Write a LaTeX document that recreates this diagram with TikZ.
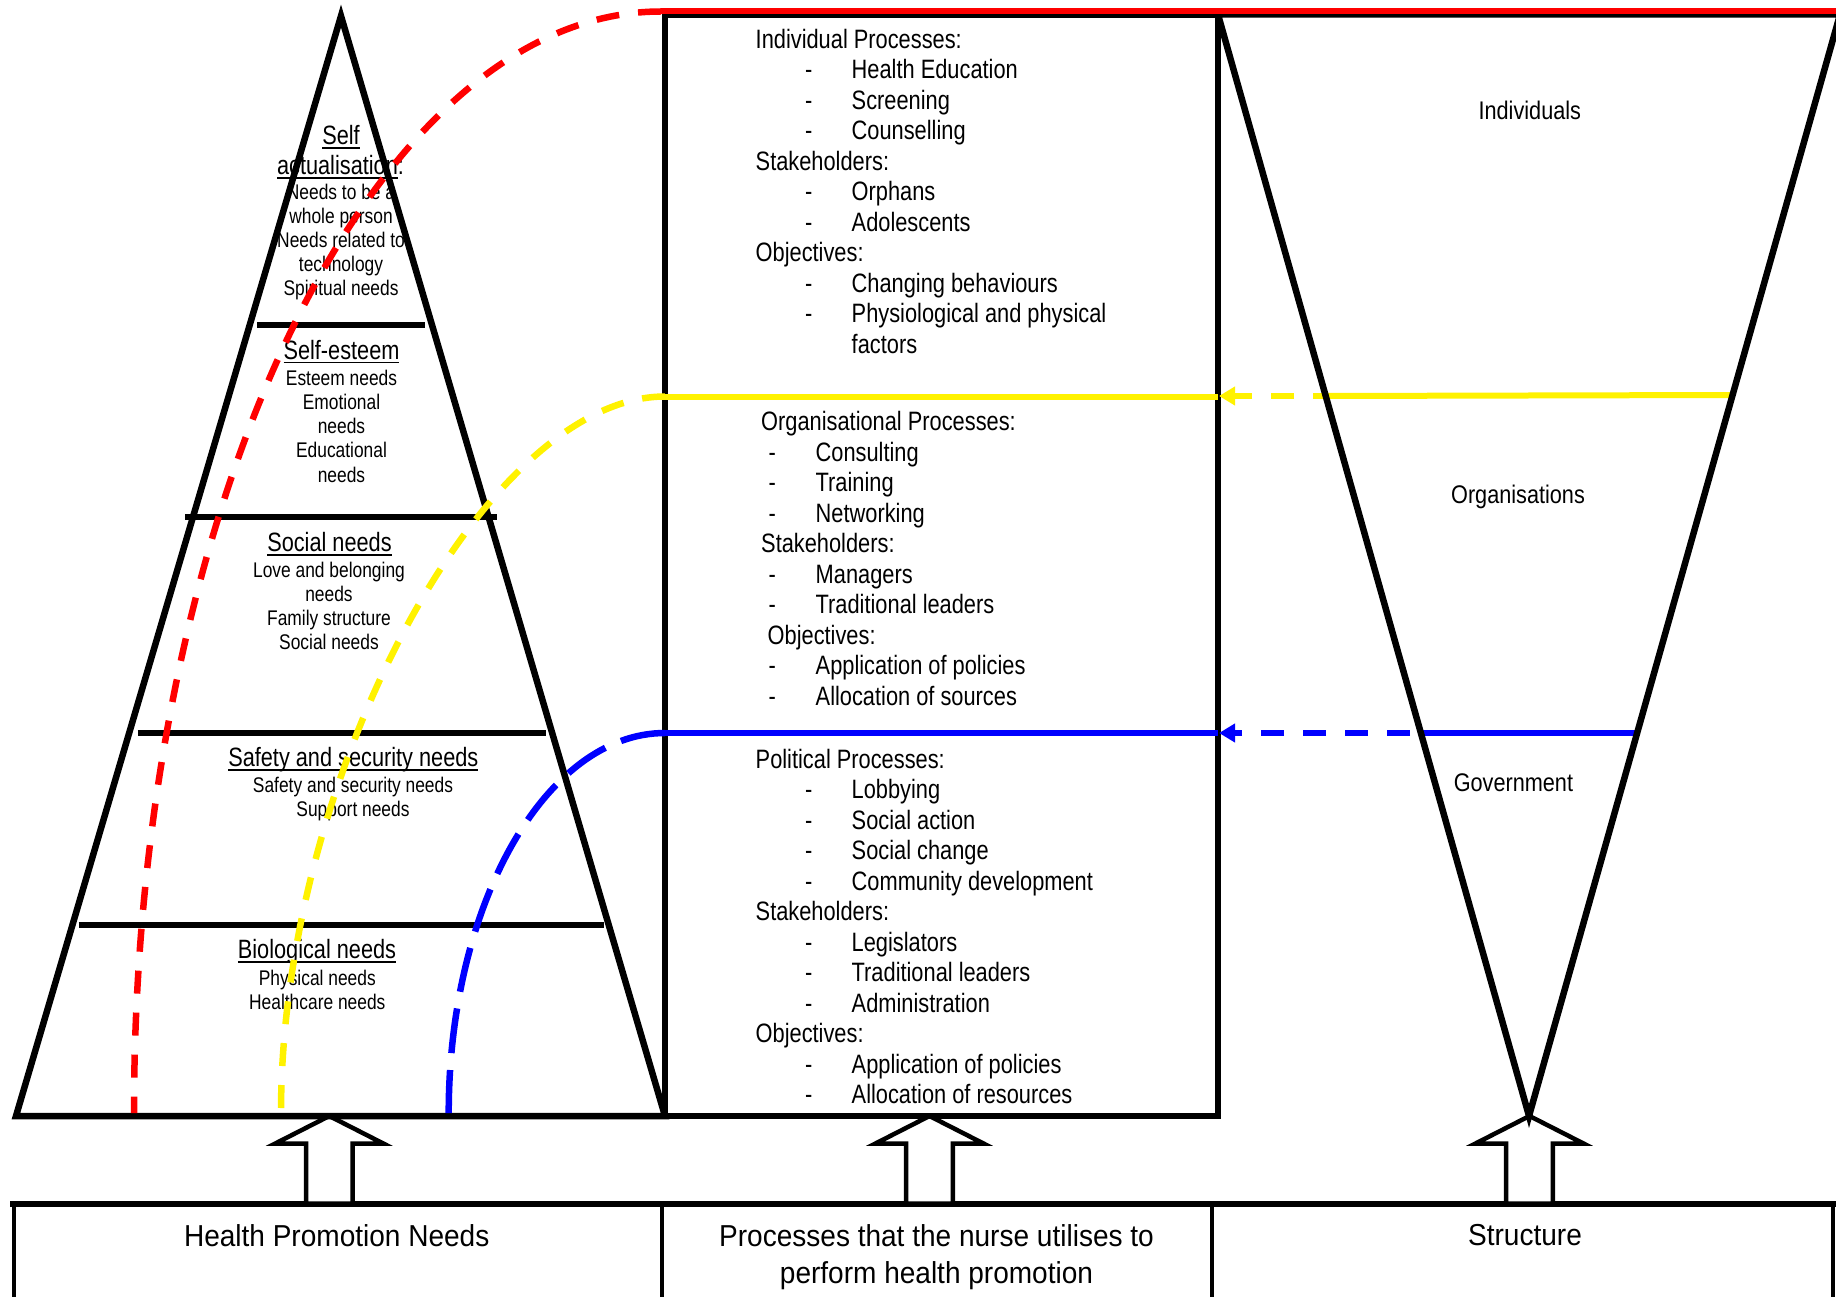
\documentclass[tikz,border=0pt]{standalone}
\usepackage{fontspec}
\setmainfont{Liberation Sans}
\newfontfamily\narrowf{Liberation Sans}[FakeStretch=0.82]
\newfontfamily\rightf{Liberation Sans}[FakeStretch=0.85]
\newfontfamily\widef{Liberation Sans}[FakeStretch=0.925]
\usetikzlibrary{arrows.meta}
\newcommand{\ulx}[1]{\setbox0\hbox{#1}\rlap{\vrule height -2.6pt depth 4.4pt width \wd0}\box0}
\tikzset{
  blk/.style={draw=black, line width=6.5pt, line join=miter},
  barrow/.style={draw=black, fill=white, line width=4.5pt, line join=miter},
  bbox/.style={draw=black, line width=4pt},
  mtxt/.style={inner sep=0pt, font=\narrowf\fontsize{26.6pt}{30pt}\selectfont, anchor=base west},
  ptit/.style={inner sep=0pt, font=\narrowf\fontsize{26.5pt}{30pt}\selectfont, anchor=base},
  pitem/.style={inner sep=0pt, font=\narrowf\fontsize{21.2pt}{24pt}\selectfont, anchor=base},
  rlab/.style={inner sep=0pt, font=\rightf\fontsize{25.5pt}{30pt}\selectfont, anchor=base},
  btxt/.style={inner sep=0pt, font=\widef\fontsize{30.3pt}{35pt}\selectfont, anchor=base},
  redsolid/.style={draw=red, line width=6pt},
  yelsolid/.style={draw=yellow, line width=6pt},
  blusolid/.style={draw=blue, line width=6pt},
  reddash/.style={draw=red, line width=6.5pt, dash pattern=on 23pt off 19pt},
  yeldash/.style={draw=yellow, line width=6.5pt, dash pattern=on 23pt off 19pt},
  bludash/.style={draw=blue, line width=6.5pt, dash pattern=on 45pt off 17pt},
  yelarrow/.style={draw=yellow, line width=6pt, dash pattern=on 23pt off 19pt, -{Triangle[length=16pt,width=18pt]}},
  bluarrow/.style={draw=blue, line width=6pt, dash pattern=on 23pt off 19pt, -{Triangle[length=16pt,width=18pt]}}
}
\newcommand{\blockarrow}[2]{%
  \coordinate (#1) at (#2,1116);
  \draw[barrow] (#1) -- ++(54,27.5) -- ++(-30.7,0) -- ++(0,60) -- ++(-46.6,0) -- ++(0,-60) -- ++(-30.7,0) -- cycle;}
\begin{document}
\begin{tikzpicture}[x=1pt, y=-1pt]
\useasboundingbox (0,0) rectangle (1836,1297);
\clip (0,0) rectangle (1836,1297);
\fill[white] (0,0) rectangle (1836,1297);

% ---------- bottom boxes and block arrows ----------
\coordinate (bt0) at (10,1203.5);
\coordinate (bt1) at (1840,1203.5);
\draw[bbox] (14,1203.5) -- (14,1330);
\draw[bbox] (661.5,1203.5) -- (661.5,1330);
\draw[bbox] (1212,1203.5) -- (1212,1330);
\draw[bbox] (1833,1203.5) -- (1833,1330);
\draw[draw=black, line width=6pt] (bt0) -- (bt1);
\blockarrow{ar1}{329.3}
\blockarrow{ar2}{929.5}
\blockarrow{ar3}{1529.5}

\node[btxt] (bx1) at (336.7,1246) {Health Promotion Needs};
\node[btxt] (bx2) at (936.5,1246.7) {Processes that the nurse utilises to};
\node[btxt] (bx2b) at (936.5,1283) {perform health promotion};
\node[btxt] (bx3) at (1525,1245.7) {Structure};

% ---------- pyramid ----------
\coordinate (pa) at (341,16);
\coordinate (pl) at (16,1116);
\coordinate (pr) at (665,1116);
\draw[blk] (pa) -- (pl) -- (pr) -- cycle;
\coordinate (l1a) at (257,325);   \coordinate (l1b) at (425,325);
\coordinate (l2a) at (185,517);   \coordinate (l2b) at (497,517);
\coordinate (l3a) at (137.5,733); \coordinate (l3b) at (545.5,733);
\coordinate (l4a) at (78.5,925);  \coordinate (l4b) at (604,925);
\draw[blk] (l1a) -- (l1b);
\draw[blk] (l2a) -- (l2b);
\draw[blk] (l3a) -- (l3b);
\draw[blk] (l4a) -- (l4b);

% pyramid texts
\node[ptit] (sa1) at (341,144.3) {\ulx{Self}};
\node[ptit] (sa2) at (340.5,174.3) {\ulx{actualisation}:};
\node[pitem] (sa3) at (341,199.3) {Needs to be a};
\node[pitem] (sa4) at (341,223.4) {whole person};
\node[pitem] (sa5) at (341,247.5) {Needs related to};
\node[pitem] (sa6) at (341,271.6) {technology};
\node[pitem] (sa7) at (341,295.7) {Spiritual needs};

\node[ptit] (se1) at (341.5,359) {\ulx{Self-esteem}};
\node[pitem] (se2) at (341.5,385) {Esteem needs};
\node[pitem] (se3) at (341.5,409.3) {Emotional};
\node[pitem] (se4) at (341.5,433.6) {needs};
\node[pitem] (se5) at (341.5,457.9) {Educational};
\node[pitem] (se6) at (341.5,482.2) {needs};

\node[ptit] (so1) at (329.5,551.8) {\ulx{Social needs}};
\node[pitem] (so2) at (329,577.1) {Love and belonging};
\node[pitem] (so3) at (329,601.3) {needs};
\node[pitem] (so4) at (329,625.6) {Family structure};
\node[pitem] (so5) at (329,649.9) {Social needs};

\node[ptit] (sf1) at (353.3,766.7) {\ulx{Safety and security needs}};
\node[pitem] (sf2) at (353,792.7) {Safety and security needs};
\node[pitem] (sf3) at (353,816.9) {Support needs};

\node[ptit] (bi1) at (317,958.3) {\ulx{Biological needs}};
\node[pitem] (bi2) at (317.3,985) {Physical needs};
\node[pitem] (bi3) at (317.3,1009) {Healthcare needs};

% ---------- middle box ----------
\coordinate (bxtl) at (665,14.5);
\coordinate (bxbr) at (1218,1116);
\draw[blk] (bxtl) rectangle (bxbr);

\node[mtxt] (h1) at (755.5,48.3) {Individual Processes:};
\node[mtxt] (i1d) at (805,78.8) {-};  \node[mtxt] (i1) at (851.5,78.8) {Health Education};
\node[mtxt] (i2d) at (805,109.3) {-}; \node[mtxt] (i2) at (851.5,109.3) {Screening};
\node[mtxt] (i3d) at (805,139.8) {-}; \node[mtxt] (i3) at (851.5,139.8) {Counselling};
\node[mtxt] (h2) at (755.5,170.3) {Stakeholders:};
\node[mtxt] (i4d) at (805,200.8) {-}; \node[mtxt] (i4) at (851.5,200.8) {Orphans};
\node[mtxt] (i5d) at (805,231.3) {-}; \node[mtxt] (i5) at (851.5,231.3) {Adolescents};
\node[mtxt] (h3) at (755.5,261.8) {Objectives:};
\node[mtxt] (i6d) at (805,292.3) {-}; \node[mtxt] (i6) at (851.5,292.3) {Changing behaviours};
\node[mtxt] (i7d) at (805,322.8) {-}; \node[mtxt] (i7) at (851.5,322.8) {Physiological and physical};
\node[mtxt] (i8) at (851.5,353.3) {factors};

\node[mtxt] (h4) at (761,430.7) {Organisational Processes:};
\node[mtxt] (o1d) at (768.5,461.2) {-}; \node[mtxt] (o1) at (815.5,461.2) {Consulting};
\node[mtxt] (o2d) at (768.5,491.7) {-}; \node[mtxt] (o2) at (815.5,491.7) {Training};
\node[mtxt] (o3d) at (768.5,522.2) {-}; \node[mtxt] (o3) at (815.5,522.2) {Networking};
\node[mtxt] (h5) at (761,552.7) {Stakeholders:};
\node[mtxt] (o4d) at (768.5,583.2) {-}; \node[mtxt] (o4) at (815.5,583.2) {Managers};
\node[mtxt] (o5d) at (768.5,613.7) {-}; \node[mtxt] (o5) at (815.5,613.7) {Traditional leaders};
\node[mtxt] (h6) at (767.5,644.2) {Objectives:};
\node[mtxt] (o6d) at (768.5,674.7) {-}; \node[mtxt] (o6) at (815.5,674.7) {Application of policies};
\node[mtxt] (o7d) at (768.5,705.2) {-}; \node[mtxt] (o7) at (815.5,705.2) {Allocation of sources};

\node[mtxt] (h7) at (755.5,768.3) {Political Processes:};
\node[mtxt] (q1d) at (805,798.8) {-};  \node[mtxt] (q1) at (851.5,798.8) {Lobbying};
\node[mtxt] (q2d) at (805,829.3) {-};  \node[mtxt] (q2) at (851.5,829.3) {Social action};
\node[mtxt] (q3d) at (805,859.8) {-};  \node[mtxt] (q3) at (851.5,859.8) {Social change};
\node[mtxt] (q4d) at (805,890.3) {-};  \node[mtxt] (q4) at (851.5,890.3) {Community development};
\node[mtxt] (h8) at (755.5,920.8) {Stakeholders:};
\node[mtxt] (q5d) at (805,951.3) {-};  \node[mtxt] (q5) at (851.5,951.3) {Legislators};
\node[mtxt] (q6d) at (805,981.8) {-};  \node[mtxt] (q6) at (851.5,981.8) {Traditional leaders};
\node[mtxt] (q7d) at (805,1012.3) {-}; \node[mtxt] (q7) at (851.5,1012.3) {Administration};
\node[mtxt] (h9) at (755.5,1042.8) {Objectives:};
\node[mtxt] (q8d) at (805,1073.3) {-}; \node[mtxt] (q8) at (851.5,1073.3) {Application of policies};
\node[mtxt] (q9d) at (805,1103.8) {-}; \node[mtxt] (q9) at (851.5,1103.8) {Allocation of resources};

% ---------- right labels ----------
\node[rlab] (rl1) at (1529.8,119.6) {Individuals};
\node[rlab] (rl2) at (1518,503.6) {Organisations};
\node[rlab] (rl3) at (1513.4,791.8) {Government};

% ---------- coloured connectors ----------
\coordinate (y0) at (665,396.5);  \coordinate (y1) at (1218,396.5);
\coordinate (b0) at (665,733);    \coordinate (b1) at (1218,733);
\coordinate (r0) at (661,11.5);   \coordinate (r1) at (1840,11.5);
\coordinate (rbot) at (134,1113);
\coordinate (ybot) at (281,1113);
\coordinate (bbot) at (448.7,1113);
\draw[yelsolid] (y0) -- (y1);
\draw[blusolid] (b0) -- (b1);
\draw[reddash] (r0) .. controls (372,11.5) and (134,507) .. (rbot);
\draw[yeldash] (y0) .. controls (485,396.5) and (281,776) .. (ybot);
\draw[bludash] (b0) .. controls (546,733) and (448.7,904) .. (bbot);

\coordinate (yr0) at (1325.5,396); \coordinate (yr1) at (1730,395);
\coordinate (ya0) at (1336,396);   \coordinate (ya1) at (1219,396);
\coordinate (br0) at (1421,733);   \coordinate (br1) at (1637,733);
\coordinate (ba0) at (1410,733);   \coordinate (ba1) at (1219,733);
\draw[yelsolid] (yr0) -- (yr1);
\draw[yelarrow] (ya0) -- (ya1);
\draw[blusolid] (br0) -- (br1);
\draw[bluarrow] (ba0) -- (ba1);

% ---------- inverted triangle ----------
\coordinate (tl) at (1218,14.5);
\coordinate (tb) at (1529,1116);
\coordinate (tr) at (1840,14.5);
\draw[blk] (tl) -- (tb) -- (tr) -- cycle;

% ---------- red top line ----------
\draw[redsolid] (r0) -- (r1);
\end{tikzpicture}
\end{document}
